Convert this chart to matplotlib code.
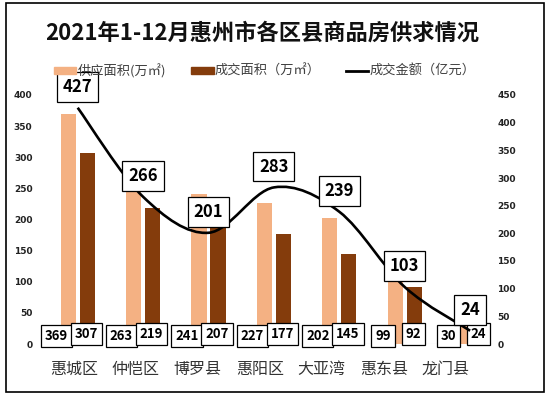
import numpy as np
import matplotlib
matplotlib.use("Agg")
import matplotlib.pyplot as plt
from matplotlib.path import Path
from matplotlib.patches import PathPatch, Patch, Rectangle
from matplotlib.lines import Line2D

plt.rcParams['font.family'] = ['Noto Sans CJK SC', 'DejaVu Sans']

districts = ['惠城区', '仲恺区', '博罗县', '惠阳区', '大亚湾', '惠东县', '龙门县']
supply = [369, 263, 241, 227, 202, 99, 30]      # 供应面积 (万㎡)
deal_area = [307, 219, 207, 177, 145, 92, 24]   # 成交面积 (万㎡)
deal_amount = [427, 266, 201, 283, 239, 103, 24]  # 成交金额 (亿元)

light = '#F4B183'
dark = '#843C0C'

fig = plt.figure(figsize=(5.51, 3.99), dpi=100)
W, H = 551, 399
ax = fig.add_axes([45 / W, 55 / H, 448 / W, 249 / H])
ax2 = ax.twinx()

x = np.arange(len(districts))
ax.bar(x - 0.145, supply, width=0.23, color=light, zorder=2)
ax.bar(x + 0.145, deal_area, width=0.23, color=dark, zorder=2)
ax.axhline(0, color='#d9d9d9', lw=0.8, zorder=1)

box = dict(boxstyle='square,pad=0.3', fc='white', ec='black', lw=0.9)
for i in range(len(x)):
    ax.text(x[i] - 0.33, 13, str(supply[i]), ha='center', va='center', fontsize=9.5,
            fontweight='bold', bbox=box, zorder=5)
    ax.text(x[i] + 0.13, 16, str(deal_area[i]), ha='center', va='center', fontsize=9.5,
            fontweight='bold', bbox=box, zorder=5)

# smooth line (bezier through the points, like excel's smoothed line)
pts = np.column_stack([x, deal_amount]).astype(float)
verts = [pts[0]]
codes = [Path.MOVETO]
n = len(pts)
for i in range(n - 1):
    p0 = pts[max(i - 1, 0)]
    p1 = pts[i]
    p2 = pts[i + 1]
    p3 = pts[min(i + 2, n - 1)]
    c1 = p1 + (p2 - p0) / 6
    c2 = p2 - (p3 - p1) / 6
    verts += [c1, c2, p2]
    codes += [Path.CURVE4] * 3
ax2.add_patch(PathPatch(Path(verts, codes), fc='none', ec='black', lw=1.9, zorder=3))

box2 = dict(boxstyle='square,pad=0.35', fc='white', ec='black', lw=0.9)
for i in range(n):
    ax2.annotate(str(deal_amount[i]), (x[i], deal_amount[i]), xytext=(0, 15),
                 textcoords='offset points', ha='center', va='center', fontsize=12,
                 fontweight='bold', bbox=box2, zorder=6)

ax.set_xlim(-0.5, 6.35)
ax.set_ylim(0, 400)
ax2.set_ylim(0, 450)
ax.set_yticks(np.arange(0, 401, 50))
ax2.set_yticks(np.arange(0, 451, 50))
tick_pos = -0.061 + 0.948 * x
ax.set_xticks(tick_pos)
ax.set_xticklabels(districts, fontsize=11.5, color='#333333')
ax.tick_params(axis='x', length=0, pad=12)
ax.tick_params(axis='y', length=0, pad=9, labelsize=6.5, labelcolor='#222222')
ax2.tick_params(axis='y', length=0, pad=3, labelsize=6.5, labelcolor='#222222')
for lab in ax.get_yticklabels() + ax2.get_yticklabels():
    lab.set_fontweight('bold')
    lab.set_family('DejaVu Sans')
for a in (ax, ax2):
    for s in a.spines.values():
        s.set_visible(False)

fig.text(262 / W, 1 - 33 / H, '2021年1-12月惠州市各区县商品房供求情况', ha='center',
         va='center', fontsize=16, fontweight='bold', color='#111111')

handles = [Patch(color=light), Patch(color=dark), Line2D([], [], color='black', lw=2)]
labels = ['供应面积(万㎡)', '成交面积（万㎡）', '成交金额（亿元）']
fig.legend(handles, labels, loc='center left', bbox_to_anchor=(42 / W, 1 - 71 / H), ncol=3,
           frameon=False, fontsize=9.5, handlelength=1.7, handleheight=0.35,
           handletextpad=0.1, columnspacing=1.9, labelcolor='#404040')

fig.patches.append(Rectangle((6 / W, 7 / H), 538 / W, 389 / H, transform=fig.transFigure,
                             fill=False, ec='black', lw=1.2))

fig.savefig('out.png', dpi=100)
